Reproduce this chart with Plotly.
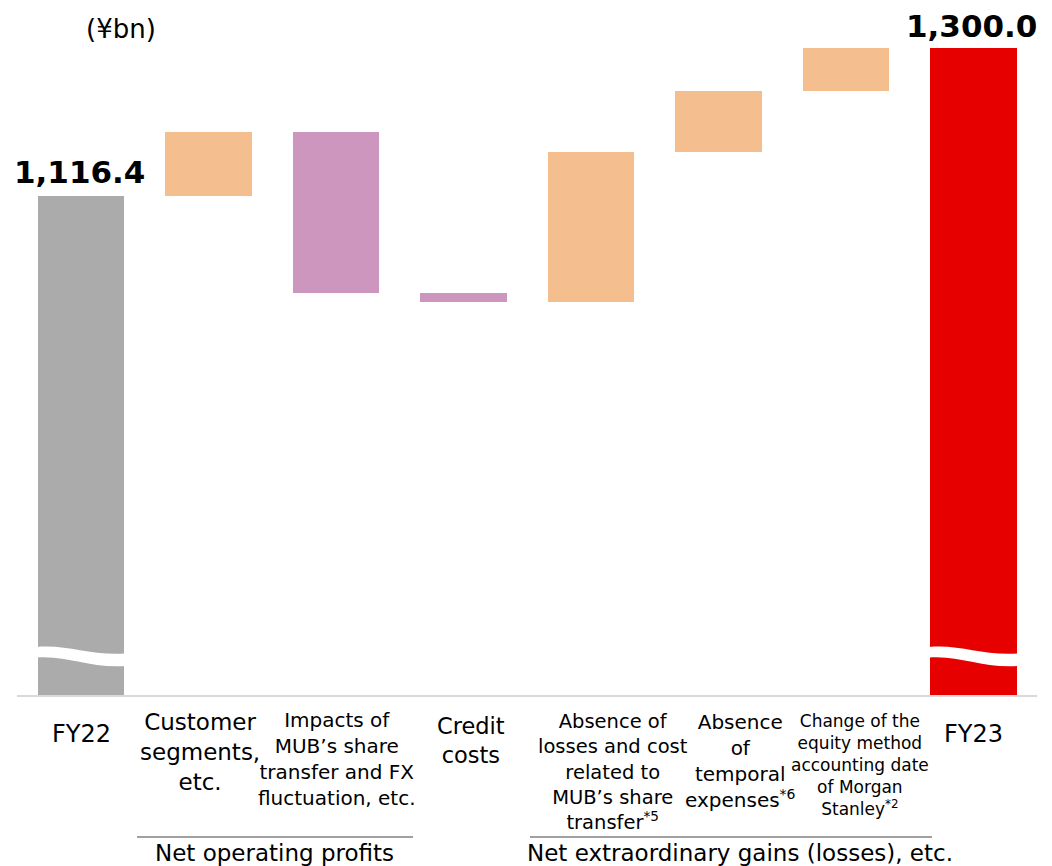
import plotly.graph_objects as go

# ---- data ----
categories = ["FY22", "Customer segments, etc.",
              "Impacts of MUB's share transfer and FX fluctuation, etc.",
              "Credit costs",
              "Absence of losses and cost related to MUB's share transfer*5",
              "Absence of temporal expenses*6",
              "Change of the equity method accounting date of Morgan Stanley*2",
              "FY23"]
start_value = 1116.4
deltas = [79.4, -199.7, -11.2, 186.1, 75.7, 53.3]
end_value = 1300.0
bar_colors = ["#ABABAB", "#F4BE8E", "#CC96BE", "#CC96BE",
              "#F4BE8E", "#F4BE8E", "#F4BE8E", "#E60000"]
label_texts = [
    "FY22",
    "Customer<br>segments,<br>etc.",
    "Impacts of<br>MUB’s share<br>transfer and FX<br>fluctuation, etc.",
    "Credit<br>costs",
    "Absence of<br>losses and cost<br>related to<br>MUB’s share<br>transfer<sup>*5</sup>",
    "Absence<br>of<br>temporal<br>expenses<sup>*6</sup>",
    "Change of the<br>equity method<br>accounting date<br>of Morgan<br>Stanley<sup>*2</sup>",
    "FY23",
]
group_labels = ["Net operating profits", "Net extraordinary gains (losses), etc."]

# ---- layout helpers (pixel geometry) ----
W, H = 1052, 866
ML, MR, MT, MB = 10, 15, 0, 171
PLOT_BOTTOM = H - MB          # 695
PX_PER_CAT = 127.5
X0_PX = 81
VAL_PER_PX = (end_value - start_value) / 148.0
Y_MIN = start_value - (PLOT_BOTTOM - 196) * VAL_PER_PX
Y_MAX = Y_MIN + (PLOT_BOTTOM - MT) * VAL_PER_PX


def xd(px):
    return (px - X0_PX) / PX_PER_CAT


def yp(py):
    return (PLOT_BOTTOM - py) / (PLOT_BOTTOM - MT)


def yv(py):
    return Y_MIN + (PLOT_BOTTOM - py) * VAL_PER_PX


# ---- bars ----
xs = list(range(len(categories)))
bases, heights = [0], [start_value]
level = start_value
for d in deltas:
    if d >= 0:
        bases.append(level)
        heights.append(d)
    else:
        bases.append(level + d)
        heights.append(-d)
    level += d
bases.append(0)
heights.append(end_value)

fig = go.Figure()
fig.add_trace(go.Bar(x=xs, y=heights, base=bases, width=0.675,
                     marker=dict(color=bar_colors, line=dict(width=0)),
                     hoverinfo="skip", showlegend=False))

shapes = []
# baseline
shapes.append(dict(type="line", xref="paper", yref="paper",
                   x0=(17 - ML) / (W - ML - MR), x1=1.0,
                   y0=yp(696), y1=yp(696),
                   line=dict(color="#D9D9D9", width=2)))
# wavy break marks on the total bars
for xi in (0, len(categories) - 1):
    l, r = xi - 0.35, xi + 0.35
    w = r - l
    top_l, top_r = yv(647), yv(653.5)
    bot_l, bot_r = yv(657.5), yv(666)
    path = (f"M {l},{top_l} C {l + w*0.35},{yv(644)} {l + w*0.6},{yv(656)} {r},{top_r} "
            f"L {r},{bot_r} C {l + w*0.6},{yv(668.5)} {l + w*0.35},{yv(655)} {l},{bot_l} Z")
    shapes.append(dict(type="path", xref="x", yref="y", path=path,
                       fillcolor="white", line=dict(width=0), layer="above"))
# group underlines
for x0p, x1p in ((137, 413), (530, 932)):
    shapes.append(dict(type="line", xref="x", yref="paper",
                       x0=xd(x0p), x1=xd(x1p), y0=yp(837), y1=yp(837),
                       line=dict(color="#808080", width=1.5)))

FONT = "DejaVu Sans"
ann = []
# value labels
ann.append(dict(x=xd(79), y=yp(172), xref="x", yref="paper", text="<b>1,116.4</b>",
                showarrow=False, xanchor="center", yanchor="middle",
                font=dict(family=FONT, size=31, color="black")))
ann.append(dict(x=xd(971), y=yp(26), xref="x", yref="paper", text="<b>1,300.0</b>",
                showarrow=False, xanchor="center", yanchor="middle",
                font=dict(family=FONT, size=31, color="black")))
ann.append(dict(x=xd(121), y=yp(29), xref="x", yref="paper", text="(¥bn)",
                showarrow=False, xanchor="center", yanchor="middle",
                font=dict(family=FONT, size=26, color="black")))

# category labels: (center px, top px, font size)
label_pos = [(81, 718, 24), (200, 707, 23), (337, 706, 20), (471, 711, 22.5),
             (613, 708, 19.5), (740, 708, 20), (860, 709, 17), (973, 718, 24)]
for txt, (cx, ty, fs) in zip(label_texts, label_pos):
    ann.append(dict(x=xd(cx), y=yp(ty), xref="x", yref="paper", text=txt,
                    showarrow=False, xanchor="center", yanchor="top", align="center",
                    font=dict(family=FONT, size=fs, color="black")))
# group labels
for txt, cx in zip(group_labels, (274, 740)):
    ann.append(dict(x=xd(cx), y=yp(853), xref="x", yref="paper", text=txt,
                    showarrow=False, xanchor="center", yanchor="middle",
                    font=dict(family=FONT, size=23, color="black")))

fig.update_layout(
    width=W, height=H,
    margin=dict(l=ML, r=MR, t=MT, b=MB, pad=0),
    paper_bgcolor="white", plot_bgcolor="white",
    xaxis=dict(range=[xd(ML), xd(W - MR)], showgrid=False, zeroline=False,
               showticklabels=False, showline=False, fixedrange=True),
    yaxis=dict(range=[Y_MIN, Y_MAX], showgrid=False, zeroline=False,
               showticklabels=False, showline=False, fixedrange=True),
    shapes=shapes, annotations=ann, bargap=0,
)

fig.write_html("out.html")
